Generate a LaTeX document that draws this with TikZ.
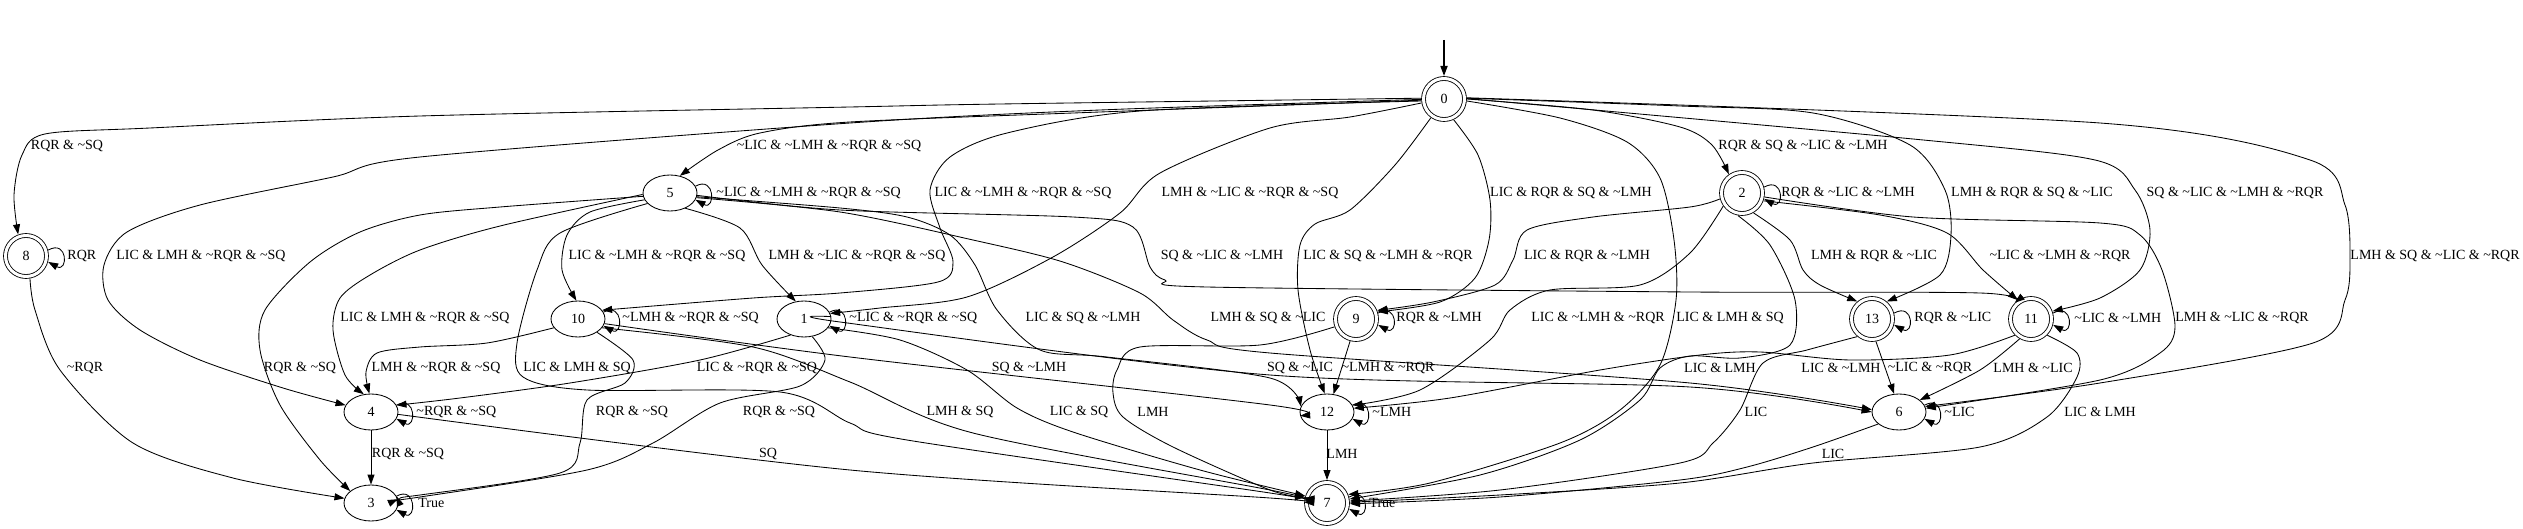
\documentclass[tikz,border=0pt]{standalone}
\usepackage{fontspec}
\setmainfont{Liberation Serif}
\usetikzlibrary{arrows.meta,shapes.geometric}
\newcommand{\nt}{\textasciitilde}
\begin{document}
\begin{tikzpicture}[x=1pt, y=-1pt, font=\fontsize{14}{16}\selectfont, line width=0.85pt,
  st/.style={draw, ellipse, minimum width=54pt, minimum height=36pt, inner sep=0pt},
  acc/.style={draw, circle, double, double distance=3pt, minimum size=41pt, inner sep=0pt, outer sep=2.5pt},
  tr/.style={-{Triangle[length=10pt,width=7pt]}},
  lbl/.style={inner sep=0pt},
  lp/.style={inner sep=0pt, anchor=west}]
\useasboundingbox (0,0) rectangle (2523,529);
\node[acc] (q0) at (1444,99) {0};
\node[acc] (q8) at (26,256) {8};
\node[st] (q5) at (670,193) {5};
\node[st] (q10) at (578,319) {10};
\node[st] (q1) at (804,319) {1};
\node[st] (q4) at (371,412) {4};
\node[st] (q3) at (371,503) {3};
\node[acc] (q9) at (1356,319) {9};
\node[st] (q12) at (1327,412) {12};
\node[acc] (q7) at (1327,503) {7};
\node[acc] (q2) at (1742,193) {2};
\node[acc] (q13) at (1872,319) {13};
\node[acc] (q11) at (2031,319) {11};
\node[st] (q6) at (1899,412) {6};
\coordinate (init) at (1444,40);
\draw[tr, line width=1.6pt] (init) -- (q0);

\draw[tr] (q8.15) .. controls +(20,-11) and +(20,11) .. (q8.-15);
\draw[tr] (q5.15) .. controls +(20,-11) and +(20,11) .. (q5.-15);
\draw[tr] (q10.15) .. controls +(20,-11) and +(20,11) .. (q10.-15);
\draw[tr] (q1.15) .. controls +(20,-11) and +(20,11) .. (q1.-15);
\draw[tr] (q4.15) .. controls +(20,-11) and +(20,11) .. (q4.-15);
\draw[tr] (q3.15) .. controls +(20,-11) and +(20,11) .. (q3.-15);
\draw[tr] (q9.15) .. controls +(20,-11) and +(20,11) .. (q9.-15);
\draw[tr] (q12.15) .. controls +(20,-11) and +(20,11) .. (q12.-15);
\draw[tr] (q7.15) .. controls +(20,-11) and +(20,11) .. (q7.-15);
\draw[tr] (q2.15) .. controls +(20,-11) and +(20,11) .. (q2.-15);
\draw[tr] (q13.15) .. controls +(20,-11) and +(20,11) .. (q13.-15);
\draw[tr] (q11.15) .. controls +(20,-11) and +(20,11) .. (q11.-15);
\draw[tr] (q6.15) .. controls +(20,-11) and +(20,11) .. (q6.-15);
\node[lp] at (67,256) {RQR};
\node[lp] at (716,193) {\nt LIC \& \nt LMH \& \nt RQR \& \nt SQ};
\node[lp] at (622,318) {\nt LMH \& \nt RQR \& \nt SQ};
\node[lp] at (849,318) {\nt LIC \& \nt RQR \& \nt SQ};
\node[lp] at (416,412) {\nt RQR \& \nt SQ};
\node[lp] at (418,503) {True};
\node[lp] at (1396,318) {RQR \& \nt LMH};
\node[lp] at (1372,412) {\nt LMH};
\node[lp] at (1369,503) {True};
\node[lp] at (1781,193) {RQR \& \nt LIC \& \nt LMH};
\node[lp] at (1914,318) {RQR \& \nt LIC};
\node[lp] at (2074,318) {\nt LIC \& \nt LMH};
\node[lp] at (1944,412) {\nt LIC};

\draw[tr] plot[smooth] coordinates {(q0.178) (1000,104) (850,107) (420,116) (150,128) (45,134) (22,155) (14,195) (q8.110)};
\node[lbl] at (67,146) {RQR \& \nt SQ};
\draw[tr] plot[smooth] coordinates {(q0.181) (1100,110) (850,123) (420,157) (333,177) (200,205) (127,232) (104,265) (108,300) (140,330) (200,360) (283,388) (q4.165)};
\node[lbl] at (201,256) {LIC \& LMH \& \nt RQR \& \nt SQ};
\draw[tr] plot[smooth] coordinates {(q0.183) (1100,112) (850,122) (760,133) (718,150) (q5.60)};
\node[lbl] at (829,146) {\nt LIC \& \nt LMH \& \nt RQR \& \nt SQ};
\draw[tr] plot[smooth] coordinates {(q0.185) (1140,111) (1007,133) (950,157) (930,190) (940,228) (953,262) (938,282) (840,293) (753,298) (q10.20)};
\node[lbl] at (1023,193) {LIC \& \nt LMH \& \nt RQR \& \nt SQ};
\draw[tr] plot[smooth] coordinates {(q0.190) (1350,117) (1270,128) (1160,173) (1120,213) (1053,257) (967,297) (880,308) (q1.12)};
\node[lbl] at (1250,193) {LMH \& \nt LIC \& \nt RQR \& \nt SQ};
\draw[tr] plot[smooth] coordinates {(q0.235) (1395,165) (1350,210) (1315,224) (1300,245) (1298,290) (1310,350) (q12.97)};
\node[lbl] at (1388,256) {LIC \& SQ \& \nt LMH \& \nt RQR};
\draw[tr] plot[smooth] coordinates {(q0.295) (1478,155) (1490,200) (1489,240) (1475,278) (1440,302) (q9.18)};
\node[lbl] at (1571,193) {LIC \& RQR \& SQ \& \nt LMH};
\draw[tr] plot[smooth] coordinates {(q0.-5) (1560,118) (1627,142) (1660,178) (1674,240) (1676,300) (1660,365) (1620,410) (1560,443) (1430,483) (q7.22)};
\node[lbl] at (1730,318) {LIC \& LMH \& SQ};
\draw[tr] plot[smooth] coordinates {(q0.0) (1593,110) (1680,127) (1712,145) (q2.125)};
\node[lbl] at (1803,146) {RQR \& SQ \& \nt LIC \& \nt LMH};
\draw[tr] plot[smooth] coordinates {(q0.2) (1680,106) (1813,113) (1910,145) (1945,190) (1951,235) (1940,275) (q13.50)};
\node[lbl] at (2032,193) {LMH \& RQR \& SQ \& \nt LIC};
\draw[tr] plot[smooth] coordinates {(q0.1) (1913,139) (2095,160) (2135,190) (2150,230) (2140,270) (2100,298) (q11.20)};
\node[lbl] at (2235,193) {SQ \& \nt LIC \& \nt LMH \& \nt RQR};
\draw[tr] plot[smooth] coordinates {(q0.3) (2100,123) (2310,160) (2345,205) (2350,260) (2345,300) (2313,343) (2100,383) (q6.12)};
\node[lbl] at (2435,256) {LMH \& SQ \& \nt LIC \& \nt RQR};

\draw[tr] plot[smooth] coordinates {(q5.195) (590,212) (567,235) (562,270) (q10.95)};
\node[lbl] at (657,256) {LIC \& \nt LMH \& \nt RQR \& \nt SQ};
\draw[tr] plot[smooth] coordinates {(q5.-45) (740,228) (762,265) (q1.115)};
\node[lbl] at (857,256) {LMH \& \nt LIC \& \nt RQR \& \nt SQ};
\draw[tr] plot[smooth] coordinates {(q5.183) (500,226) (420,250) (370,275) (340,298) (333,330) (345,375) (q4.112)};
\node[lbl] at (425,318) {LIC \& LMH \& \nt RQR \& \nt SQ};
\draw[tr] plot[smooth] coordinates {(q5.187) (500,207) (420,215) (360,232) (310,262) (265,310) (260,350) (280,405) (320,460) (q3.150)};
\node[lbl] at (300,368) {RQR \& \nt SQ};
\draw[tr] plot[smooth] coordinates {(q5.205) (560,233) (537,270) (517,343) (523,377) (587,390) (780,392) (850,423) (907,440) (1270,493) (q7.172)};
\node[lbl] at (577,368) {LIC \& LMH \& SQ};
\draw[tr] plot[smooth] coordinates {(q5.-8) (840,208) (907,217) (950,235) (975,265) (997,310) (1040,350) (1107,357) (1270,378) (q12.168)};
\node[lbl] at (1083,318) {LIC \& SQ \& \nt LMH};
\draw[tr] plot[smooth] coordinates {(q5.-5) (840,210) (1073,217) (1133,227) (1150,267) (1165,280) (1207,287) (1690,292) (1980,293) (q11.135)};
\node[lbl] at (1222,256) {SQ \& \nt LIC \& \nt LMH};
\draw[tr] plot[smooth] coordinates {(q5.-10) (840,212) (973,240) (1063,262) (1140,293) (1173,320) (1207,340) (1270,353) (1690,383) (q6.175)};
\node[lbl] at (1268,318) {LMH \& SQ \& \nt LIC};

\draw[tr] plot[smooth] coordinates {(q10.200) (487,343) (420,347) (377,353) (366,372) (q4.95)};
\node[lbl] at (436,368) {LMH \& \nt RQR \& \nt SQ};
\draw[tr] plot[smooth] coordinates {(q10.-35) (633,360) (625,383) (587,400) (580,443) (560,473) (420,495) (q3.15)};
\node[lbl] at (632,412) {RQR \& \nt SQ};
\draw[tr] plot[smooth] coordinates {(q10.-10) (850,357) (1270,405) (q12.188)};
\node[lbl] at (1029,368) {SQ \& \nt LMH};
\draw[tr] plot[smooth] coordinates {(q10.-20) (753,347) (850,382) (973,433) (1270,490) (q7.168)};
\node[lbl] at (960,412) {LMH \& SQ};

\draw[tr] plot[smooth] coordinates {(q1.230) (700,360) (570,383) (460,398) (q4.15)};
\node[lbl] at (757,368) {LIC \& \nt RQR \& \nt SQ};
\draw[tr] plot[smooth] coordinates {(q1.-65) (825,360) (800,386) (720,403) (653,443) (587,470) (420,497) (q3.8)};
\node[lbl] at (779,412) {RQR \& \nt SQ};
\draw[tr] plot[smooth] coordinates {(q1.5) (840,322) (1270,375) (1690,387) (q6.180)};
\node[lbl] at (1300,368) {SQ \& \nt LIC};
\draw[tr] plot[smooth] coordinates {(q1.-20) (900,340) (967,370) (1017,408) (1073,432) (1200,470) (q7.162)};
\node[lbl] at (1079,412) {LIC \& SQ};

\draw[tr] (q4) -- (q3);
\node[lbl] at (408,454) {RQR \& \nt SQ};
\draw[tr] plot[smooth] coordinates {(q4.-5) (850,470) (1270,498) (q7.178)};
\node[lbl] at (768,454) {SQ};
\draw[tr] plot[smooth] coordinates {(q8.-80) (35,310) (60,370) (133,443) (233,478) (q3.170)};
\node[lbl] at (85,368) {\nt RQR};

\draw[tr] (q9.-105) -- (q12.70);
\node[lbl] at (1388,368) {\nt LMH \& \nt RQR};
\draw[tr] plot[smooth] coordinates {(q9.200) (1260,345) (1140,347) (1117,370) (1113,393) (1123,417) (1173,447) (1270,490) (q7.165)};
\node[lbl] at (1153,412) {LMH};
\draw[tr] (q12) -- (q7);
\node[lbl] at (1342,454) {LMH};

\draw[tr] plot[smooth] coordinates {(q2.195) (1690,207) (1593,217) (1527,230) (1513,260) (1495,285) (1433,302) (q9.22)};
\node[lbl] at (1587,256) {LIC \& RQR \& \nt LMH};
\draw[tr] plot[smooth] coordinates {(q2.215) (1690,253) (1640,285) (1550,290) (1510,310) (1490,340) (1420,390) (q12.15)};
\node[lbl] at (1598,318) {LIC \& \nt LMH \& \nt RQR};
\draw[tr] plot[smooth] coordinates {(q2.-60) (1790,240) (1803,270) (1820,285) (q13.130)};
\node[lbl] at (1874,256) {LMH \& RQR \& \nt LIC};
\draw[tr] plot[smooth] coordinates {(q2.-20) (1880,215) (1947,233) (1983,270) (q11.125)};
\node[lbl] at (2060,256) {\nt LIC \& \nt LMH \& \nt RQR};
\draw[tr] plot[smooth] coordinates {(q2.-10) (1913,217) (2100,223) (2140,235) (2162,270) (2175,327) (2160,353) (2100,380) (q6.8)};
\node[lbl] at (2242,318) {LMH \& \nt LIC \& \nt RQR};
\draw[tr] plot[smooth] coordinates {(q2.-100) (1770,245) (1795,300) (1790,345) (1740,358) (1690,356) (1660,368) (1640,400) (1580,440) (1480,475) (q7.10)};
\node[lbl] at (1720,368) {LIC \& LMH};

\draw[tr] (q13.-80) -- (q6.105);
\node[lbl] at (1930,368) {\nt LIC \& \nt RQR};
\draw[tr] plot[smooth] coordinates {(q13.230) (1807,350) (1763,363) (1740,410) (1713,443) (1680,463) (1500,490) (q7.5)};
\node[lbl] at (1756,412) {LIC};

\draw[tr] plot[smooth] coordinates {(q11.225) (1950,355) (1850,360) (1760,352) (1700,355) (1600,370) (1450,398) (q12.8)};
\node[lbl] at (1841,368) {LIC \& \nt LMH};
\draw[tr] plot[smooth] coordinates {(q11.240) (1980,370) (q6.30)};
\node[lbl] at (2033,368) {LMH \& \nt LIC};
\draw[tr] plot[smooth] coordinates {(q11.-45) (2077,353) (2077,377) (2047,417) (1980,447) (1813,463) (1680,483) (1500,495) (q7.2)};
\node[lbl] at (2100,412) {LIC \& LMH};

\draw[tr] plot[smooth] coordinates {(q6.210) (1813,447) (1747,467) (1680,480) (1500,497) (q7.-2)};
\node[lbl] at (1833,454) {LIC};
\end{tikzpicture}
\end{document}
